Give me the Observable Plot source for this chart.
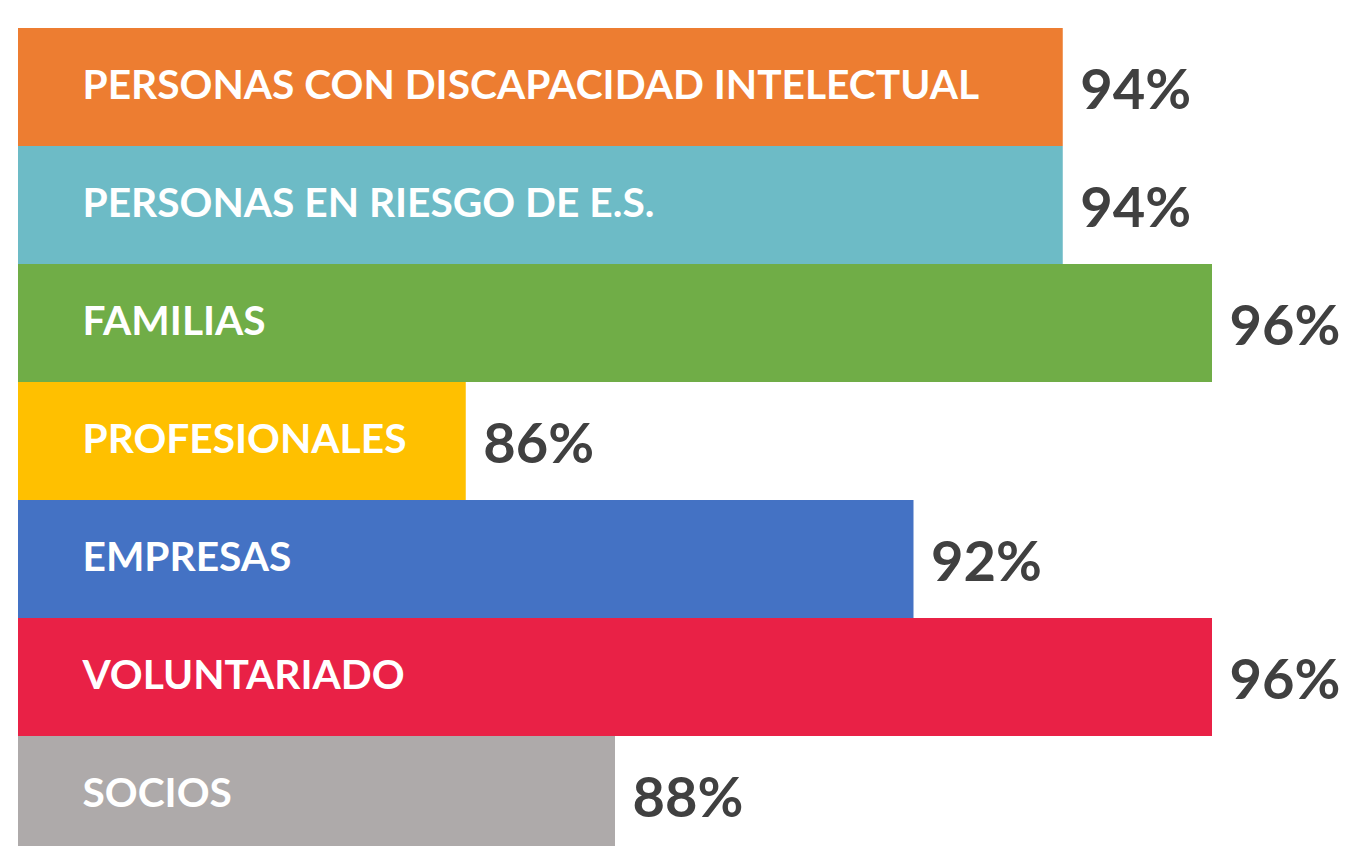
<!DOCTYPE html>
<html><head><meta charset="utf-8">
<script src="https://cdn.jsdelivr.net/npm/d3@7"></script>
<script src="https://cdn.jsdelivr.net/npm/@observablehq/plot@0.6"></script>
<style>html,body{margin:0;padding:0;overflow:hidden;background:#fff}</style>
</head><body><div id="chart"></div>
<script>
const categories = [
  "PERSONAS CON DISCAPACIDAD INTELECTUAL",
  "PERSONAS EN RIESGO DE E.S.",
  "FAMILIAS",
  "PROFESIONALES",
  "EMPRESAS",
  "VOLUNTARIADO",
  "SOCIOS"
];
const values = [94, 94, 96, 86, 92, 96, 88];
const colors = ["#ED7D31", "#6DBBC6", "#70AD47", "#FFC000", "#4472C4", "#E92146", "#AEAAAA"];
const baseline = 80;

const data = categories.map((c, i) => ({category: c, value: values[i], color: colors[i]}));

const chart = Plot.plot({
  width: 1347, height: 856,
  marginTop: 26, marginBottom: 0, marginLeft: 18, marginRight: 135,
  x: {domain: [baseline, 96], axis: null},
  y: {domain: categories, axis: null, padding: 0},
  color: {type: "identity"},
  style: {fontFamily: "Lato", background: "#fff"},
  marks: [
    Plot.barX(data, {y: "category", x1: baseline, x2: "value", fill: "color"}),
    Plot.text(data, {y: "category", x: baseline, text: "category", textAnchor: "start", dx: 64, dy: -2,
      fill: "white", fontWeight: "bold", fontSize: 40.7}),
    Plot.text(data, {y: "category", x: "value", text: d => d.value + "%", textAnchor: "start", dx: 17, dy: 4,
      fill: "#404040", fontWeight: "bold", fontSize: 56})
  ]
});
document.getElementById("chart").appendChild(chart);
</script>
</body></html>
